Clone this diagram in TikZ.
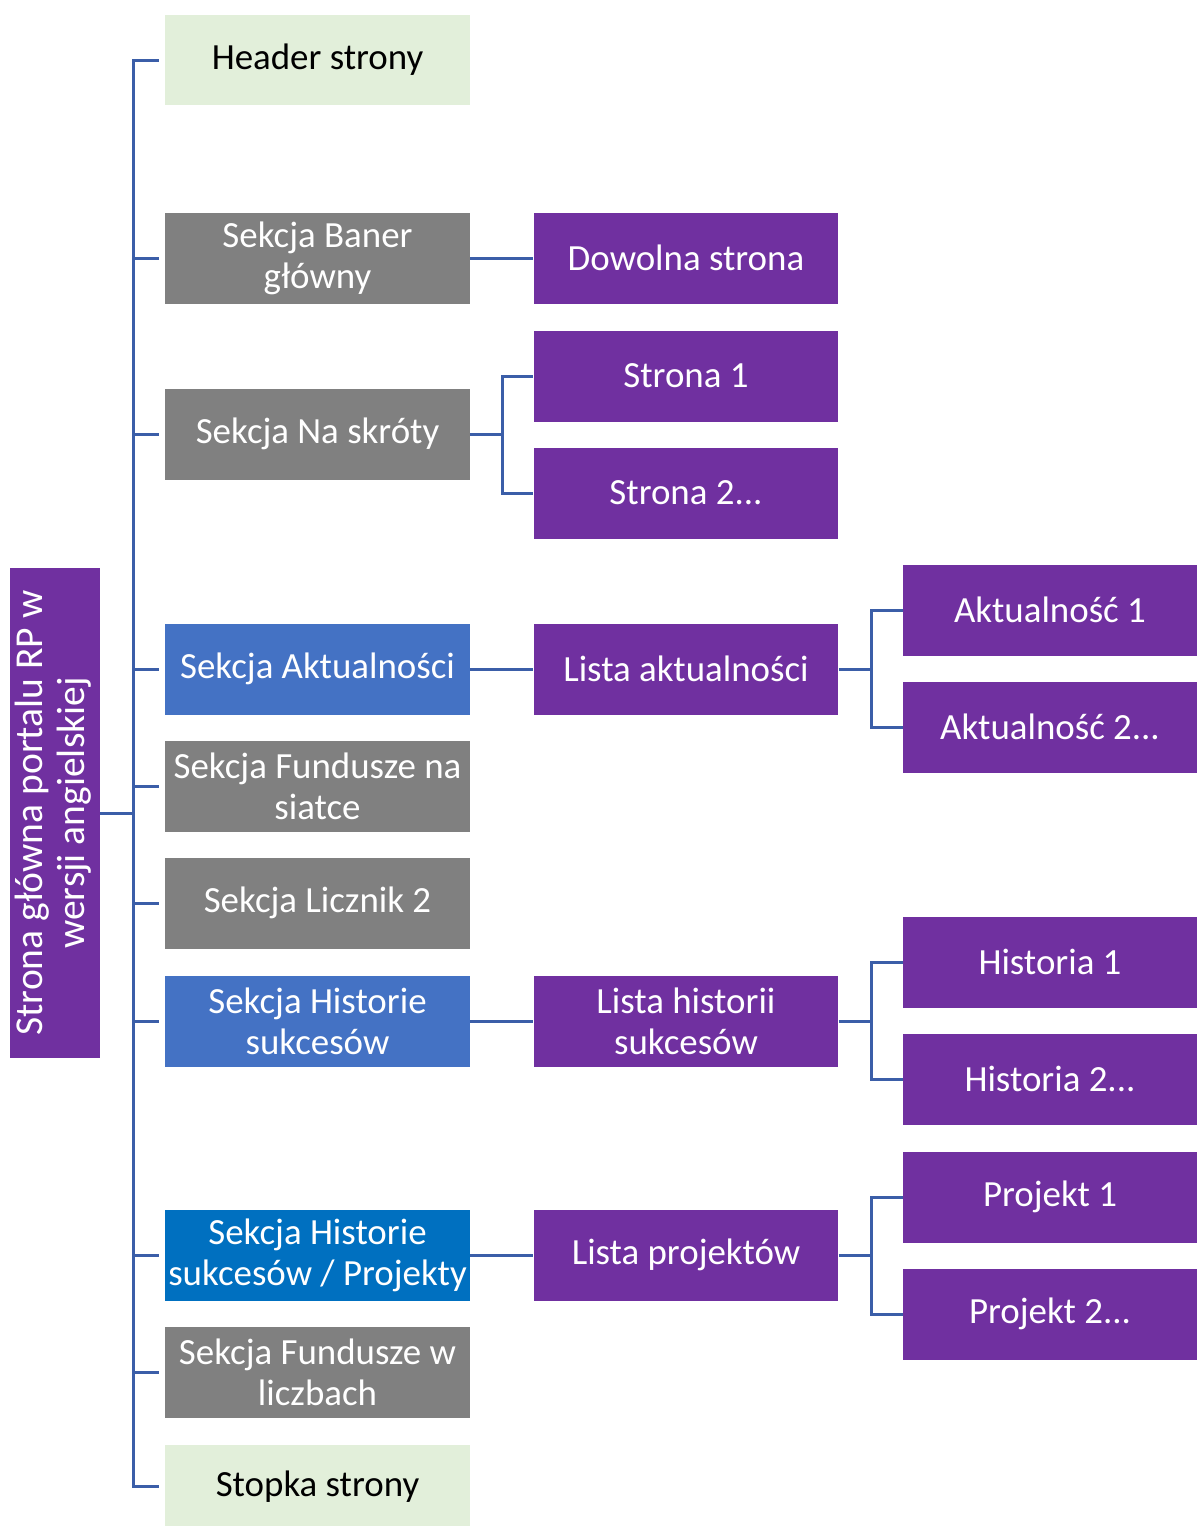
\documentclass[tikz,border=0pt]{standalone}
\usepackage{fontspec}
\setmainfont{Carlito}
\usepackage{graphicx}
\usepackage{tikz}

\definecolor{fiolet}{HTML}{7030A0}
\definecolor{szary}{HTML}{808080}
\definecolor{niebieski}{HTML}{4472C4}
\definecolor{niebieski2}{HTML}{0070C0}
\definecolor{zielony}{HTML}{E2EFDA}
\definecolor{linia}{HTML}{3B5EA8}

\begin{document}
\begin{tikzpicture}[x=0.02cm,y=-0.02cm,
	box/.style={minimum width=6.1cm,minimum height=1.82cm,inner sep=0pt,align=center,
		font=\fontsize{21}{23.4}\selectfont,text=white},
	grey/.style={box,fill=szary},
	blue/.style={box,fill=niebieski},
	purple/.style={box,fill=fiolet},
	green/.style={box,fill=zielony,text=black},
	leaf/.style={purple,minimum width=5.88cm},
	link/.style={draw=linia,line width=1.7pt}]
	\useasboundingbox (0,0) rectangle (1197,1526);

	\node[purple,minimum width=1.8cm,minimum height=9.8cm,font=\fontsize{22.5}{23.8}\selectfont] (root) at (55,813)
		{\rotatebox{90}{\begin{tabular}{@{}c@{}}Strona główna portalu RP w\\wersji angielskiej\end{tabular}}};

	\node[green] (header) at (317.5,60) {Header strony};
	\node[grey] (baner) at (317.5,258) {Sekcja Baner\\główny};
	\node[grey] (skroty) at (317.5,434) {Sekcja Na skróty};
	\node[blue] (aktualnosci) at (317.5,669) {Sekcja Aktualności};
	\node[grey] (siatka) at (317.5,786) {Sekcja Fundusze na\\siatce};
	\node[grey] (licznik) at (317.5,903) {Sekcja Licznik 2};
	\node[blue] (historie) at (317.5,1021) {Sekcja Historie\\sukcesów};
	\node[box,fill=niebieski2] (projekty) at (317.5,1255) {Sekcja Historie\\sukcesów / Projekty};
	\node[grey] (liczby) at (317.5,1372) {Sekcja Fundusze w\\liczbach};
	\node[green,minimum height=1.66cm] (stopka) at (317.5,1486.5) {Stopka strony};

	\node[purple] (dowolna) at (686,258) {Dowolna strona};
	\node[purple] (strona1) at (686,376) {Strona 1};
	\node[purple] (strona2) at (686,493) {Strona 2...};
	\node[purple] (listaakt) at (686,669) {Lista aktualności};
	\node[purple] (listahist) at (686,1021) {Lista historii\\sukcesów};
	\node[purple] (listaproj) at (686,1255) {Lista projektów};

	\node[leaf] (akt1) at (1050,610) {Aktualność 1};
	\node[leaf] (akt2) at (1050,727) {Aktualność 2...};
	\node[leaf] (hist1) at (1050,962) {Historia 1};
	\node[leaf] (hist2) at (1050,1079) {Historia 2...};
	\node[leaf] (proj1) at (1050,1197) {Projekt 1};
	\node[leaf] (proj2) at (1050,1314) {Projekt 2...};

	\draw[link] (root.east) -- ++(33,0) coordinate (hub);
	\foreach \n in {header,baner,skroty,aktualnosci,siatka,licznik,historie,projekty,liczby,stopka}
		\draw[link,shorten >=3pt] (hub) |- (\n.west);

	\draw[link] (baner.east) -- (dowolna.west);
	\draw[link] (skroty.east) -- ++(32,0) |- (strona1.west);
	\draw[link] (skroty.east) -- ++(32,0) |- (strona2.west);
	\draw[link] (aktualnosci.east) -- (listaakt.west);
	\draw[link] (historie.east) -- (listahist.west);
	\draw[link] (projekty.east) -- (listaproj.west);

	\draw[link] (listaakt.east) -- ++(33,0) |- (akt1.west);
	\draw[link] (listaakt.east) -- ++(33,0) |- (akt2.west);
	\draw[link] (listahist.east) -- ++(33,0) |- (hist1.west);
	\draw[link] (listahist.east) -- ++(33,0) |- (hist2.west);
	\draw[link] (listaproj.east) -- ++(33,0) |- (proj1.west);
	\draw[link] (listaproj.east) -- ++(33,0) |- (proj2.west);
\end{tikzpicture}
\end{document}
